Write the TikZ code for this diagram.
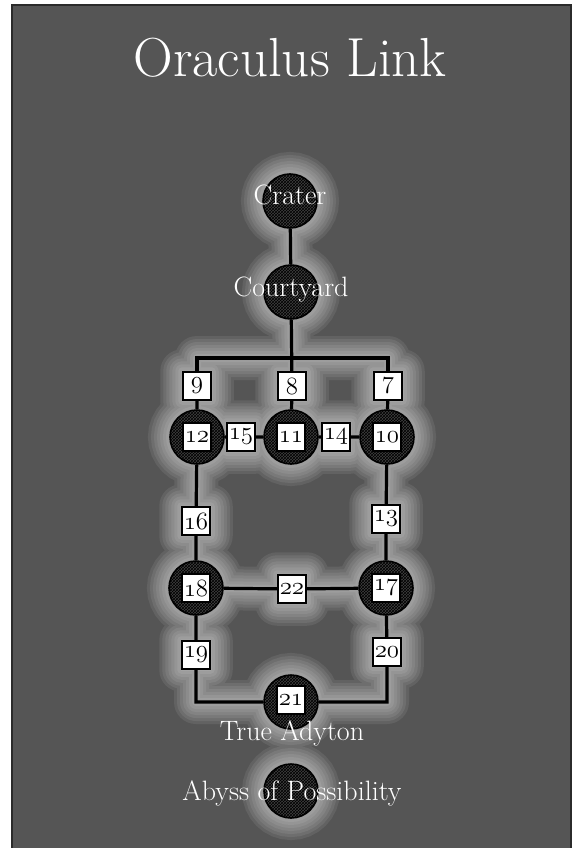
\documentclass[tikz,border=0pt]{standalone}
\usepackage{fontspec}
\usetikzlibrary{patterns}

\definecolor{slate}{HTML}{555555}
\definecolor{frame}{HTML}{2B2B2B}

\pgfdeclarelayer{back}
\pgfdeclarelayer{halo}
\pgfsetlayers{back,halo,main}

% old style figures from the math italic font
\newcommand\osn[1]{{\usefont{OML}{cmm}{m}{it}#1}}

\tikzset{
  room/.style={circle, minimum size=54pt, inner sep=0pt, draw=black, line width=1.6pt,
    fill=black!75, postaction={pattern=crosshatch, pattern color=black}},
  numtag/.style={draw=black, fill=white, line width=1.5pt, minimum size=28pt, inner sep=0pt,
    font=\fontsize{27}{27}\selectfont},
  roomname/.style={text=white, font=\fontsize{28}{28}\selectfont},
  link/.style={line width=3.2pt, black},
}

% connectors, used once for the halo and once in black
\newcommand\oraclelinks[1]{%
  \draw[#1] (crater) -- (courtyard) -- (b8) -- (r11);
  \draw[#1] (b9) |- (fork) -| (b7);
  \draw[#1] (b9) -- (r12) -- (b15) -- (r11) -- (b14) -- (r10) -- (b7);
  \draw[#1] (r12) -- (b16) -- (r18) -- (b22) -- (r17) -- (b13) -- (r10);
  \draw[#1] (r18) -- (b19) |- (r21) -| (b20) -- (r17);
}

% soft white glow round the map
\newcommand\oraclehalo[2]{%
  \begin{scope}[transparency group, opacity=#2]
    \oraclelinks{white, line width=#1, line cap=round, line join=round}
    \foreach \r in {crater,courtyard,r12,r11,r10,r18,r17,r21,abyss}
      \filldraw[white, line width=#1] (\r) circle (27pt);
    \foreach \t in {b7,b8,b9,b13,b14,b15,b16,b19,b20,b22}
      \filldraw[white, line width=#1, line join=round] (\t.south west) rectangle (\t.north east);
  \end{scope}}

\begin{document}
\begin{tikzpicture}[x=1pt, y=-1pt]
  \useasboundingbox (0,0) rectangle (572,848);
  \begin{pgfonlayer}{back}
    \fill[white] (0,0) rectangle (572,848);
    \fill[slate] (12,5) rectangle (572,848);
    \draw[frame, line width=2pt] (12,848) -- (12,5) -- (571,5) -- (571,848);
  \end{pgfonlayer}

  \node[text=white, font=\fontsize{55}{55}\selectfont] (title) at (290,58) {Oraculus Link};

  % rooms
  \node[room] (crater) at (290,201) {};
  \node[room] (courtyard) at (291,292) {};
  \node[room] (r12) at (197,437) {};
  \node[room] (r11) at (291,437) {};
  \node[room] (r10) at (387,437) {};
  \node[room] (r18) at (196,588) {};
  \node[room] (r17) at (386,588) {};
  \node[room] (r21) at (291,702) {};
  \node[room] (abyss) at (291,791) {};
  \coordinate (fork) at (291,358);

  % numbered passages
  \node[numtag] (b9) at (197,386) {\osn{9}};
  \node[numtag] (b8) at (292,386) {\osn{8}};
  \node[numtag] (b7) at (388,386) {\osn{7}};
  \node[numtag] (b15) at (241,437) {\osn{15}};
  \node[numtag] (b14) at (336,437) {\osn{14}};
  \node[numtag] (b16) at (196,521) {\osn{16}};
  \node[numtag] (b13) at (386,519) {\osn{13}};
  \node[numtag] (b22) at (292,589) {\osn{22}};
  \node[numtag] (b19) at (196,655) {\osn{19}};
  \node[numtag] (b20) at (387,652) {\osn{20}};

  \begin{pgfonlayer}{halo}
    \foreach \w in {44,38,...,2} {\oraclehalo{\w pt}{0.08}}
  \end{pgfonlayer}

  \oraclelinks{link}

  % numbers inside the rooms
  \node[numtag] (t12) at (r12) {\osn{12}};
  \node[numtag] (t11) at (r11) {\osn{11}};
  \node[numtag] (t10) at (r10) {\osn{10}};
  \node[numtag] (t18) at (r18) {\osn{18}};
  \node[numtag] (t17) at (r17) {\osn{17}};
  \node[numtag] (t21) at (291,700) {\osn{21}};

  % room names
  \node[roomname] (craterlbl) at (290,195) {Crater};
  \node[roomname] (courtyardlbl) at (291,290) {Courtyard};
  \node[roomname] (adytonlbl) at (292,733) {True Adyton};
  \node[roomname] (abysslbl) at (292,793) {Abyss of Possibility};
\end{tikzpicture}
\end{document}
